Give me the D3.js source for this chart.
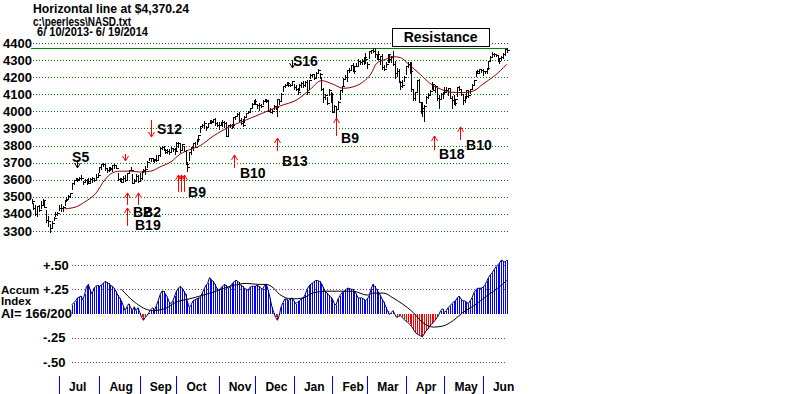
<!DOCTYPE html>
<html>
<head>
<meta charset="utf-8">
<script src="https://d3js.org/d3.v7.min.js"></script>
<style>
    body { margin: 0; background: #fff; }
    svg { display: block; font-family: "Liberation Sans", Arial, sans-serif; font-weight: bold; }
</style>
</head>
<body>
<svg id="chart" width="800" height="394"></svg>
<script>
// Daily NASDAQ bars, 6/10/2013 - 6/19/2014 (one row per month)
const highs = [
    3487,3461,3450,3449,3453,3478,3487,3484,3421,3385,3341,3358,3384,3410,3414,
    3452,3456,3446,3483,3497,3508,3525,3579,3601,3613,3612,3614,3626,3594,3605,3606,3611,3608,3614,3611,3632,3637,
    3676,3690,3695,3690,3664,3677,3677,3685,3694,3687,3640,3613,3610,3620,3625,3638,3658,3674,3633,3607,3632,3625,
    3637,3652,3665,3680,3707,3730,3727,3729,3724,3747,3746,3789,3798,3795,3777,3779,3779,3794,3785,3783,
    3818,3818,3814,3808,3798,3772,3702,3761,3793,3816,3821,3840,3864,3915,3926,3945,3915,3929,3947,3951,3953,3962,3940,
    3937,3937,3947,3946,3935,3920,3924,3927,3966,3974,3988,3997,3961,3953,3974,3991,4005,4019,4049,4069,
    4070,4046,4051,4046,4064,4073,4071,4064,4017,4012,4039,4034,4070,4069,4108,4148,4158,4170,4172,4162,4177,
    4160,4152,4139,4162,4172,4176,4175,4182,4184,4219,4220,4219,4230,4246,4227,4203,4138,4104,4083,4129,4111,
    4106,4038,4026,4058,4126,4149,4198,4211,4240,4254,4274,4284,4265,4285,4307,4297,4308,4318,4342,
    4288,4353,4359,4372,4372,4338,4354,4324,4335,4273,4287,4334,4338,4323,4351,4294,4256,4246,4180,4185,4205,
    4268,4286,4288,4286,4126,4114,4184,4190,4048,4052,4039,4087,4110,4125,4171,4161,4156,4135,4094,4110,4116,
    4140,4142,4139,4134,4087,4093,4072,4145,4150,4128,4095,4090,4127,4122,4133,4160,4186,4237,4240,4250,4249,
    4245,4239,4256,4297,4323,4345,4340,4336,4332,4312,4326,4344,4363,4370
]
const lows = [
    3465,3428,3396,3389,3418,3434,3453,3442,3355,3328,3294,3322,3362,3390,3391,
    3421,3415,3416,3452,3475,3485,3498,3548,3574,3598,3591,3598,3603,3575,3590,3576,3587,3580,3587,3595,3606,3617,
    3647,3665,3683,3658,3643,3651,3655,3652,3666,3667,3599,3595,3588,3591,3595,3606,3637,3655,3578,3578,3594,3585,
    3594,3606,3648,3634,3676,3714,3710,3711,3705,3712,3719,3738,3781,3772,3754,3759,3753,3766,3768,3752,
    3773,3791,3764,3773,3770,3692,3652,3715,3751,3772,3790,3809,3827,3881,3908,3905,3893,3909,3929,3933,3937,3921,3917,
    3897,3922,3916,3911,3856,3860,3906,3902,3909,3954,3971,3945,3926,3912,3935,3969,3989,3995,4024,4047,
    4041,4022,4008,4027,4043,4059,4054,4001,3994,3990,4012,4015,3974,4046,4067,4121,4144,4159,4151,4150,4155,
    4131,4125,4103,4127,4142,4142,4148,4104,4132,4193,4206,4187,4198,4229,4194,4126,4053,4071,4041,4093,4057,
    3996,4005,3968,4021,4073,4115,4147,4189,4178,4229,4250,4236,4227,4263,4271,4275,4276,4277,4283,
    4252,4312,4341,4345,4320,4308,4304,4280,4250,4241,4257,4286,4290,4291,4271,4194,4208,4172,4129,4140,4176,
    4218,4262,4222,4122,4069,4069,4119,4052,3992,3971,3946,4048,4079,4097,4130,4125,4113,4069,4018,4081,4080,
    4106,4113,4094,4079,4022,4046,4039,4092,4125,4094,4046,4053,4078,4085,4105,4132,4160,4206,4222,4232,4228,
    4214,4223,4223,4249,4302,4320,4324,4322,4293,4285,4300,4314,4330,4345
]
const closes = [
    3473,3437,3401,3445,3423,3453,3482,3443,3365,3357,3320,3347,3376,3401,3403,
    3434,3433,3443,3479,3485,3504,3520,3578,3600,3607,3598,3610,3611,3587,3600,3579,3594,3605,3613,3599,3617,3626,
    3676,3690,3693,3666,3654,3669,3660,3684,3685,3669,3602,3602,3589,3613,3599,3638,3657,3657,3579,3593,3620,3590,
    3612,3649,3658,3660,3706,3729,3725,3715,3722,3717,3745,3783,3789,3774,3765,3768,3761,3787,3781,3771,
    3817,3815,3774,3808,3771,3694,3677,3760,3792,3815,3794,3840,3864,3915,3920,3929,3907,3929,3944,3940,3953,3930,3920,
    3922,3937,3940,3932,3858,3919,3919,3920,3965,3973,3986,3950,3932,3921,3969,3991,3994,4017,4045,4060,
    4045,4037,4038,4033,4062,4068,4060,4003,3998,4001,4029,4023,4070,4059,4104,4148,4155,4167,4157,4154,4177,
    4143,4131,4113,4153,4165,4156,4174,4113,4183,4215,4218,4197,4226,4243,4218,4128,4083,4097,4051,4123,4104,
    3997,4031,4012,4057,4126,4149,4191,4201,4240,4244,4272,4238,4263,4264,4292,4287,4292,4318,4308,
    4277,4351,4358,4352,4336,4335,4308,4323,4260,4246,4279,4333,4307,4319,4276,4226,4234,4173,4151,4156,4199,
    4268,4276,4238,4128,4080,4113,4183,4055,4000,4022,4034,4086,4095,4122,4161,4127,4148,4076,4074,4104,4115,
    4127,4123,4138,4080,4067,4051,4071,4144,4130,4100,4069,4090,4126,4096,4131,4154,4186,4237,4226,4248,4243,
    4237,4234,4251,4296,4321,4336,4338,4332,4297,4310,4321,4337,4362,4359
]

// 21-day moving average: [day index, value]
const priceMA = [
    [18,3430],[24,3440],[29,3470],[35,3520],[40,3600],[44,3640],[48,3650],[54,3650],[59,3645],[65,3650],
    [70,3675],[76,3705],[81,3750],[86,3775],[92,3800],[99,3855],[108,3910],[117,3950],[126,3990],[135,4030],
    [145,4070],[152,4130],[158,4180],[164,4160],[170,4135],[177,4150],[181,4175],[185,4220],[188,4280],[193,4305],
    [197,4320],[201,4315],[206,4270],[212,4215],[217,4165],[223,4130],[228,4112],[235,4110],[241,4120],[246,4160],
    [252,4205],[259,4275]
]

// Accumulation index, daily from day 22
const accumStart = 22
const accum = [
    0.09,0.11,0.13,0.16,0.17,0.18,0.14,0.20,0.28,0.30,
    0.24,0.20,0.26,0.28,0.29,0.28,0.29,0.31,0.33,0.32,
    0.31,0.29,0.28,0.26,0.23,0.19,0.16,0.13,0.08,0.03,
    0.07,0.10,0.06,0.03,0.07,0.03,0.06,0.01,-0.04,-0.07,
    -0.04,-0.02,0.01,0.04,0.06,0.03,0.08,0.13,0.19,0.23,
    0.23,0.20,0.17,0.12,0.10,0.13,0.18,0.23,0.26,0.28,
    0.26,0.23,0.20,0.12,0.06,0.09,0.13,0.14,0.15,0.16,
    0.16,0.21,0.25,0.29,0.31,0.37,0.35,0.33,0.30,0.26,
    0.24,0.26,0.28,0.30,0.29,0.26,0.27,0.30,0.32,0.34,
    0.34,0.32,0.29,0.28,0.26,0.25,0.24,0.27,0.28,0.28,
    0.28,0.29,0.28,0.26,0.25,0.29,0.30,0.24,0.16,0.07,
    0.01,-0.04,-0.07,-0.02,0.07,0.11,0.15,0.15,0.13,0.15,
    0.16,0.13,0.10,0.12,0.13,0.15,0.16,0.19,0.24,0.28,
    0.30,0.31,0.33,0.34,0.34,0.33,0.31,0.27,0.23,0.21,
    0.19,0.17,0.15,0.10,0.09,0.15,0.18,0.21,0.22,0.24,
    0.26,0.26,0.25,0.25,0.23,0.20,0.16,0.16,0.16,0.15,
    0.13,0.15,0.18,0.25,0.30,0.28,0.25,0.22,0.19,0.15,
    0.12,0.07,0.03,-0.01,0.01,0.03,-0.01,-0.04,-0.03,-0.02,
    -0.04,-0.06,-0.08,-0.09,-0.11,-0.13,-0.16,-0.19,-0.21,-0.22,
    -0.23,-0.24,-0.21,-0.18,-0.16,-0.13,-0.11,-0.09,-0.07,-0.04,
    -0.01,0.03,0.05,0.01,0.03,0.06,0.08,0.10,0.12,0.13,
    0.16,0.18,0.15,0.13,0.13,0.12,0.10,0.13,0.16,0.21,
    0.24,0.26,0.26,0.26,0.27,0.29,0.33,0.37,0.40,0.42,
    0.45,0.48,0.50,0.52,0.55,0.54,0.53,0.55
]

// Moving average of the accumulation index: [day index, value]
const accumMA = [
    [49,0.25],[56,0.12],[66,0.03],[74,0.06],[77,0.10],[88,0.16],[99,0.22],[110,0.29],[117,0.31],[124,0.30],
    [128,0.30],[132,0.26],[135,0.20],[142,0.15],[148,0.16],[153,0.21],[161,0.23],[168,0.23],[175,0.23],[183,0.19],
    [186,0.21],[192,0.21],[197,0.16],[202,0.10],[208,0.01],[213,-0.09],[219,-0.14],[224,-0.13],[230,-0.07],[235,0.01],
    [241,0.08],[248,0.18],[254,0.26],[259,0.34]
]

const priceTicks = [4400, 4300, 4200, 4100, 4000, 3900, 3800, 3700, 3600, 3500, 3400, 3300]
const accumTicks = [0.5, 0.25, -0.25, -0.5]
const accumTickLabels = ['+.50', '+.25', '-.25', '-.50']
const months = ['Jul', 'Aug', 'Sep', 'Oct', 'Nov', 'Dec', 'Jan', 'Feb', 'Mar', 'Apr', 'May', 'Jun']
const monthStarts = [15, 37, 59, 79, 102, 122, 143, 164, 183, 204, 225, 246]
const horizontalLine = 4370.24

// Signals: day index, arrow tip / tail level, label position (day index, level)
const signals = [
    { name: 'S5',  i: 25,   tip: 3669, tail: 3716, li: 22.1,  lv: 3704 },
    { name: '',    i: 51,   tip: 3710, tail: 3751 },
    { name: 'S12', i: 65,   tip: 3850, tail: 3950, li: 68.4,  lv: 3868 },
    { name: 'B2',  i: 52,   tip: 3523, tail: 3453, li: 55.3,  lv: 3382 },
    { name: 'B2',  i: 58,   tip: 3523, tail: 3453, li: 60.8,  lv: 3382 },
    { name: 'B19', i: 52,   tip: 3435, tail: 3330, li: 56.4,  lv: 3306 },
    { name: '',    i: 80,   tip: 3628, tail: 3529 },
    { name: '',    i: 81.5, tip: 3628, tail: 3529 },
    { name: 'B9',  i: 83,   tip: 3628, tail: 3529, li: 85.3,  lv: 3499 },
    { name: 'B10', i: 110.4, tip: 3745, tail: 3669, li: 113.6, lv: 3611 },
    { name: 'B13', i: 133.8, tip: 3844, tail: 3768, li: 136.5, lv: 3681 },
    { name: 'S16', i: 141.8, tip: 4254, tail: 4300, li: 142.5, lv: 4265 },
    { name: 'B9',  i: 165.9, tip: 3961, tail: 3856, li: 168.7, lv: 3815 },
    { name: 'B18', i: 219.3, tip: 3856, tail: 3774, li: 222,   lv: 3722 },
    { name: 'B10', i: 233.5, tip: 3909, tail: 3833, li: 236.8, lv: 3774 },
]
const darkSignals = ['S5', 'S16']

const svg = d3.select('#chart')
const crisp = (v) => Math.round(v) + 0.5

// Scales
const x = d3.scaleLinear().domain([0, closes.length - 1]).range([31.5, 506.8])
const y = d3.scaleLinear().domain([3300, 4400]).range([231, 43])
const yA = d3.scaleLinear().domain([-0.5, 0.5]).range([362, 265])

// Titles
const titles = [
    { text: 'Horizontal line at $4,370.24', x: 33, y: 13, len: 156 },
    { text: 'c:\\peerless\\NASD.txt', x: 33, y: 26, len: 98 },
    { text: '6/ 10/2013- 6/ 19/2014', x: 37, y: 36, len: 111 },
]
svg.append('g').selectAll('text')
    .data(titles)
    .join('text')
    .attr('x', (d) => d.x)
    .attr('y', (d) => d.y)
    .attr('font-size', 12)
    .attr('textLength', (d) => d.len)
    .attr('lengthAdjust', 'spacingAndGlyphs')
    .text((d) => d.text)

// Price grid + labels
const grid = svg.append('g')
grid.selectAll('line')
    .data(priceTicks)
    .join('line')
    .attr('x1', 33).attr('x2', 510)
    .attr('y1', (d) => crisp(y(d))).attr('y2', (d) => crisp(y(d)))
    .attr('stroke', '#008000')
    .attr('stroke-dasharray', '1,2')
grid.selectAll('text')
    .data(priceTicks)
    .join('text')
    .attr('x', 32)
    .attr('y', (d) => y(d) + 4.5)
    .attr('text-anchor', 'end')
    .attr('font-size', 13)
    .text((d) => d)

// Horizontal line at 4370.24
svg.append('line')
    .attr('x1', 31).attr('x2', 508)
    .attr('y1', crisp(y(horizontalLine))).attr('y2', crisp(y(horizontalLine)))
    .attr('stroke', '#008000')

// Price bars
const bars = svg.append('g').attr('stroke', '#000').attr('shape-rendering', 'crispEdges')
bars.selectAll('line.hl')
    .data(closes)
    .join('line')
    .attr('class', 'hl')
    .attr('x1', (d, i) => crisp(x(i))).attr('x2', (d, i) => crisp(x(i)))
    .attr('y1', (d, i) => Math.round(y(highs[i]))).attr('y2', (d, i) => Math.round(y(lows[i])) + 1)
bars.selectAll('line.cl')
    .data(closes)
    .join('line')
    .attr('class', 'cl')
    .attr('x1', (d, i) => Math.round(x(i))).attr('x2', (d, i) => Math.round(x(i)) + 3)
    .attr('y1', (d) => crisp(y(d))).attr('y2', (d) => crisp(y(d)))

// Price moving average
svg.append('path')
    .datum(priceMA)
    .attr('fill', 'none')
    .attr('stroke', '#8b0000')
    .attr('d', d3.line().x((d) => x(d[0])).y((d) => y(d[1])).curve(d3.curveMonotoneX))

// Signal arrows
const drawArrow = (g, xp, yTip, yTail, color) => {
    const dir = yTip < yTail ? 1 : -1
    g.append('line')
        .attr('x1', xp).attr('x2', xp)
        .attr('y1', yTail).attr('y2', yTip)
        .attr('stroke', color)
    g.append('path')
        .attr('d', `M${xp - 3},${yTip + 5 * dir}L${xp},${yTip}L${xp + 3},${yTip + 5 * dir}`)
        .attr('fill', 'none')
        .attr('stroke', color)
}
const sigG = svg.append('g')
signals.forEach((s) => {
    const color = darkSignals.includes(s.name) ? '#000' : '#ff0000'
    drawArrow(sigG, crisp(x(s.i)), y(s.tip), y(s.tail), color)
})
sigG.selectAll('text')
    .data(signals.filter((s) => s.name))
    .join('text')
    .attr('x', (d) => x(d.li))
    .attr('y', (d) => y(d.lv))
    .attr('font-size', 14)
    .text((d) => d.name)

// Resistance box
const boxX = x(196.5)
const boxBottom = y(horizontalLine) - 2
svg.append('rect')
    .attr('x', crisp(boxX)).attr('y', crisp(boxBottom - 18))
    .attr('width', 97).attr('height', 18)
    .attr('fill', '#fff').attr('stroke', '#000')
svg.append('text')
    .attr('x', boxX + 48.5).attr('y', boxBottom - 4)
    .attr('text-anchor', 'middle')
    .attr('font-size', 14)
    .text('Resistance')

// Accum panel
const aGrid = svg.append('g')
aGrid.selectAll('line')
    .data(accumTicks)
    .join('line')
    .attr('x1', 72).attr('x2', 506)
    .attr('y1', (d) => crisp(yA(d))).attr('y2', (d) => crisp(yA(d)))
    .attr('stroke', '#903090')
    .attr('stroke-dasharray', '1,2')
aGrid.append('line')
    .attr('x1', 72).attr('x2', 506)
    .attr('y1', crisp(yA(0)) + 2).attr('y2', crisp(yA(0)) + 2)
    .attr('stroke', '#e8e0a0')
    .attr('stroke-dasharray', '1,2')
aGrid.selectAll('text')
    .data(accumTicks)
    .join('text')
    .attr('x', 43)
    .attr('y', (d) => yA(d) + 4.5)
    .attr('font-size', 13)
    .text((d, i) => accumTickLabels[i])

const aLabels = svg.append('g').attr('font-size', 11.5)
aLabels.append('text').attr('x', 1).attr('y', yA(0) - 20).text('Accum')
aLabels.append('text').attr('x', 1).attr('y', yA(0) - 8.5).text('Index')
aLabels.append('text').attr('x', 1).attr('y', yA(0) + 4).attr('font-size', 12.5)
    .attr('textLength', 71).attr('lengthAdjust', 'spacingAndGlyphs').text('AI= 166/200')

svg.append('g')
    .attr('shape-rendering', 'crispEdges')
    .selectAll('line')
    .data(accum)
    .join('line')
    .attr('x1', (d, i) => crisp(x(i + accumStart))).attr('x2', (d, i) => crisp(x(i + accumStart)))
    .attr('y1', Math.round(yA(0))).attr('y2', (d) => Math.round(yA(d)))
    .attr('stroke', (d) => d >= 0 ? '#0000ff' : '#ff0000')

svg.append('path')
    .datum(accum)
    .attr('fill', 'none')
    .attr('stroke', '#000050')
    .attr('d', d3.line().x((d, i) => x(i + accumStart)).y((d) => yA(d)))

svg.append('path')
    .datum(accumMA)
    .attr('fill', 'none')
    .attr('stroke', '#000')
    .attr('d', d3.line().x((d) => x(d[0])).y((d) => yA(d[1])).curve(d3.curveMonotoneX))

// Month axis
const mAxis = svg.append('g')
mAxis.selectAll('line')
    .data(monthStarts)
    .join('line')
    .attr('x1', (d) => crisp(x(d))).attr('x2', (d) => crisp(x(d)))
    .attr('y1', 376).attr('y2', 394)
    .attr('stroke', '#0000ff')
mAxis.selectAll('text')
    .data(monthStarts)
    .join('text')
    .attr('x', (d) => x(d) + 10)
    .attr('y', 391)
    .attr('font-size', 12)
    .text((d, i) => months[i])
</script>
</body>
</html>
